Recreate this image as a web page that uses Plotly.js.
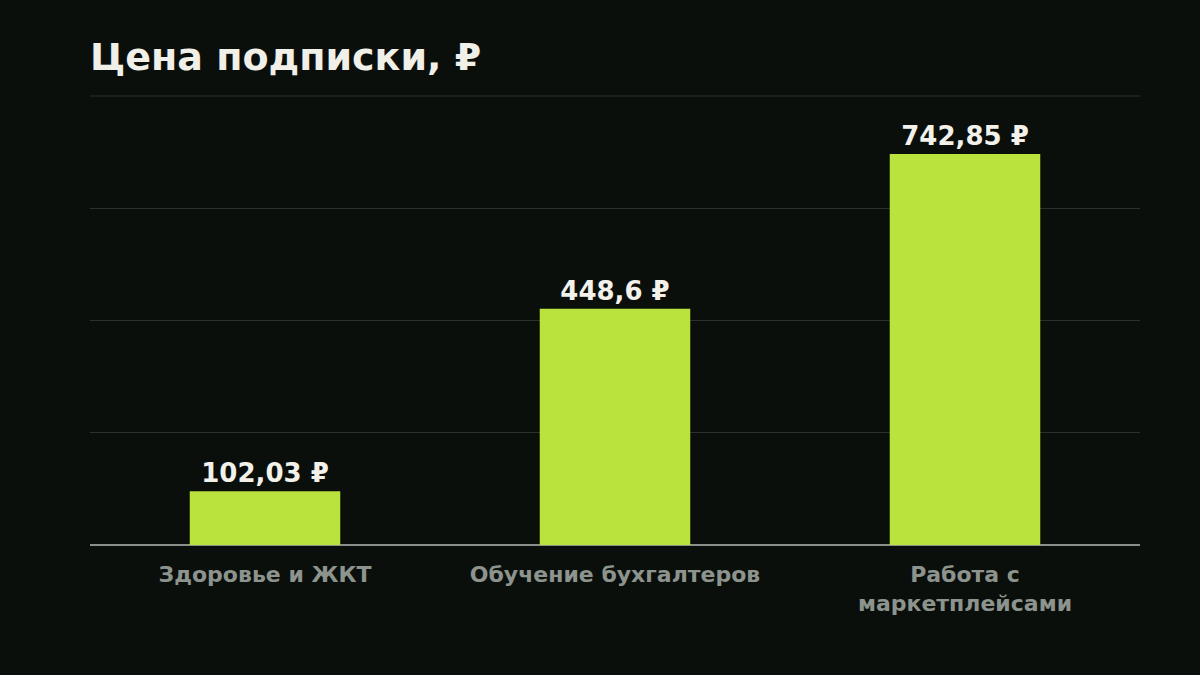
<!DOCTYPE html>
<html>
<head>
<meta charset="utf-8">
<script src="https://cdn.plot.ly/plotly-3.0.1.min.js"></script>
<style>html,body{margin:0;padding:0;background:#0b0f0c;}#chart{width:1200px;height:675px;}</style>
</head>
<body>
<div id="chart"></div>
<script>
const categories = ["Здоровье и ЖКТ", "Обучение бухгалтеров", "Работа с<br>маркетплейсами"];
const prices = [102.03, 448.6, 742.85];
const chartTitle = "Цена подписки, ₽";

const yMax = 853;
const gridVals = [0, yMax / 4, yMax / 2, 3 * yMax / 4];

const trace = {
  type: "bar",
  x: categories,
  y: prices,
  marker: {color: "#bbe33d"},
  texttemplate: "%{y:.2~f} ₽",
  textposition: "outside",
  cliponaxis: false,
  textfont: {family: "DejaVu Sans", size: 26, color: "#f2f1ea", weight: "bold"},
  hoverinfo: "skip"
};

const layout = {
  width: 1200, height: 675,
  paper_bgcolor: "#0b0f0c",
  plot_bgcolor: "#0b0f0c",
  separators: ", ",
  margin: {l: 90, r: 60, t: 96, b: 130},
  bargap: 0.57,
  showlegend: false,
  font: {family: "DejaVu Sans", color: "#f2f1ea"},
  title: {
    text: "<b>" + chartTitle + "</b>",
    x: 90 / 1200, xref: "container", xanchor: "left",
    y: 1 - 57 / 675, yref: "container", yanchor: "middle",
    font: {family: "DejaVu Sans", size: 38, color: "#f0efe8"}
  },
  shapes: [{
    type: "line", xref: "paper", yref: "paper",
    x0: 0, x1: 1, y0: 1, y1: 1,
    line: {color: "#2b302c", width: 1},
    layer: "below"
  }],
  xaxis: {
    type: "category",
    showgrid: false,
    showline: false,
    ticks: "",
    ticklabelstandoff: 14,
    tickfont: {family: "DejaVu Sans", size: 22, color: "#8c948d", weight: "bold"},
    fixedrange: true
  },
  yaxis: {
    range: [0, yMax],
    tickmode: "array",
    tickvals: gridVals,
    showticklabels: false,
    showgrid: true,
    gridcolor: "#2b302c",
    gridwidth: 1,
    zeroline: true,
    zerolinecolor: "#8a8f8a",
    zerolinewidth: 2,
    fixedrange: true
  }
};

Plotly.newPlot("chart", [trace], layout, {displayModeBar: false, staticPlot: true});
</script>
</body>
</html>
